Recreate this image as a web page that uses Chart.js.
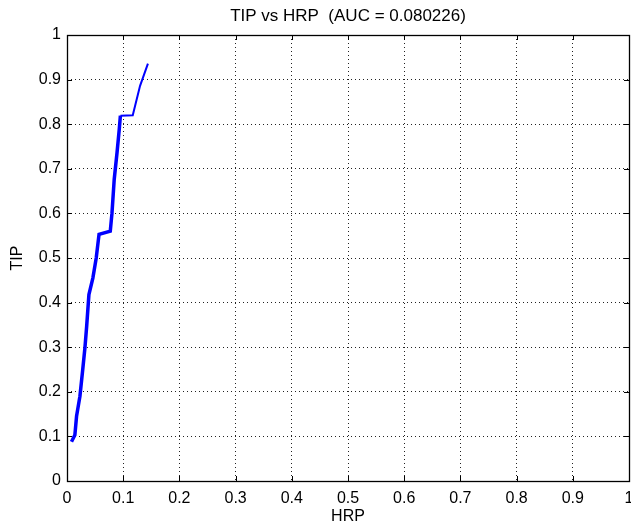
<!DOCTYPE html>
<html>
<head>
<meta charset="utf-8">
<script src="https://cdn.jsdelivr.net/npm/chart.js@4/dist/chart.umd.min.js"></script>
<style>
  html, body { margin: 0; padding: 0; background: #fff; }
  #wrap { width: 631px; height: 527px; }
</style>
</head>
<body>
<div id="wrap"><canvas id="roc"></canvas></div>
<script>
// ROC curve points
var hrp = [0.008, 0.014, 0.017, 0.023, 0.028, 0.032, 0.035, 0.039, 0.046, 0.052,
           0.057, 0.077, 0.080, 0.084, 0.089, 0.093, 0.095, 0.117, 0.130, 0.144];
var tip = [0.088, 0.103, 0.145, 0.190, 0.250, 0.300, 0.347, 0.418, 0.455, 0.500,
           0.553, 0.560, 0.600, 0.676, 0.736, 0.789, 0.819, 0.820, 0.886, 0.936];
var tickValues = [0, 0.1, 0.2, 0.3, 0.4, 0.5, 0.6, 0.7, 0.8, 0.9, 1];
var auc = 0.080226;

var points = hrp.map(function(x, i) { return { x: x, y: tip[i] }; });

var fontFamily = "'Liberation Sans', Arial, Helvetica, sans-serif";

// solid box and inward tick marks, drawn over the dotted grid
var boxTicks = {
  id: 'boxTicks',
  afterDraw: function(chart) {
    var ctx = chart.ctx, a = chart.chartArea;
    var xs = chart.scales.x, ys = chart.scales.y;
    var len = 5;
    ctx.save();
    ctx.strokeStyle = '#000';
    ctx.lineWidth = 1;
    ctx.beginPath();
    tickValues.forEach(function(v) {
      var px = Math.round(xs.getPixelForValue(v)) + 0.5;
      ctx.moveTo(px, a.bottom); ctx.lineTo(px, a.bottom - len);
      ctx.moveTo(px, a.top); ctx.lineTo(px, a.top + len);
      var py = Math.round(ys.getPixelForValue(v)) + 0.5;
      ctx.moveTo(a.left, py); ctx.lineTo(a.left + len, py);
      ctx.moveTo(a.right, py); ctx.lineTo(a.right - len, py);
    });
    ctx.stroke();
    ctx.lineWidth = 1.3;
    ctx.strokeRect(Math.round(a.left) + 0.5, Math.round(a.top) + 0.5,
                   Math.round(a.right - a.left), Math.round(a.bottom - a.top));
    ctx.restore();
  }
};

new Chart(document.getElementById('roc'), {
  type: 'line',
  data: {
    datasets: [{
      data: points,
      borderColor: '#0000ff',
      borderWidth: 3,
      pointRadius: 0,
      tension: 0,
      fill: false,
      segment: {
        borderWidth: function(c) { return c.p0.parsed.y >= 0.819 ? 2 : 3.5; }
      }
    }]
  },
  options: {
    responsive: true,
    maintainAspectRatio: false,
    animation: false,
    layout: { padding: { left: 0, right: 2, top: 0, bottom: 0 } },
    plugins: {
      legend: { display: false },
      tooltip: { enabled: false },
      title: {
        display: true,
        fullSize: false,
        text: 'TIP vs HRP  (AUC = ' + auc + ')',
        color: '#000',
        font: { family: fontFamily, size: 17, weight: 'normal' },
        padding: { top: 6, bottom: 8.6 }
      }
    },
    scales: {
      x: {
        type: 'linear',
        min: 0, max: 1,
        afterBuildTicks: function(s) { s.ticks = tickValues.map(function(v) { return { value: v }; }); },
        afterFit: function(s) { s.height = 46; s.paddingLeft = 0; s.paddingRight = 0; },
        grid: { color: '#222', lineWidth: 1, drawTicks: false },
        border: { display: false, dash: [1, 3] },
        ticks: {
          color: '#000',
          padding: 8,
          maxRotation: 0,
          font: { family: fontFamily, size: 16 },
          callback: function(v) { return String(v); }
        },
        title: {
          display: true, text: 'HRP', color: '#000',
          font: { family: fontFamily, size: 16 },
          padding: { top: 0, bottom: 1 }
        }
      },
      y: {
        type: 'linear',
        min: 0, max: 1,
        afterBuildTicks: function(s) { s.ticks = tickValues.map(function(v) { return { value: v }; }); },
        afterFit: function(s) { s.width = 67; s.paddingTop = 0; s.paddingBottom = 0; },
        grid: { color: '#222', lineWidth: 1, drawTicks: false },
        border: { display: false, dash: [1, 3] },
        ticks: {
          color: '#000',
          padding: 6,
          font: { family: fontFamily, size: 16 },
          callback: function(v) { return String(v); }
        },
        title: {
          display: true, text: 'TIP', color: '#000',
          font: { family: fontFamily, size: 16 },
          padding: { top: 8, bottom: 0 }
        }
      }
    }
  },
  plugins: [boxTicks]
});
</script>
</body>
</html>
